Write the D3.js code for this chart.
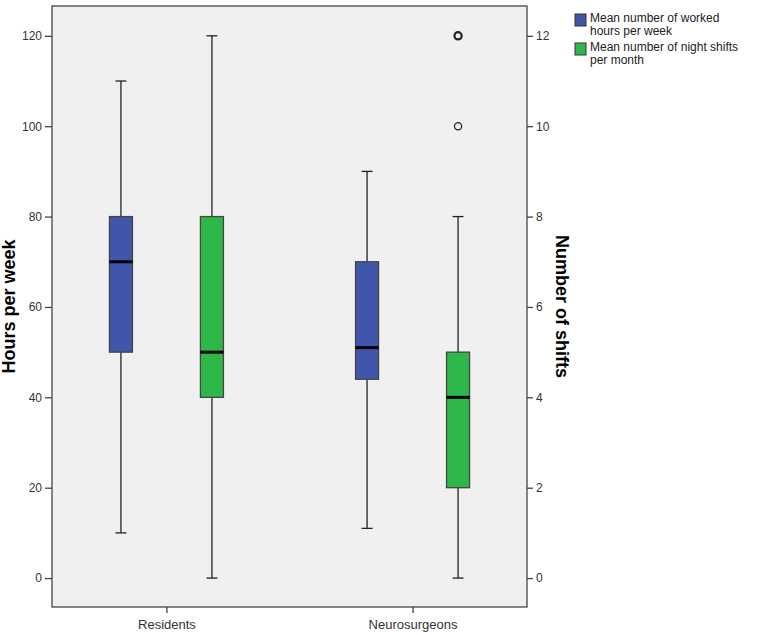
<!DOCTYPE html>
<html>
<head>
<meta charset="utf-8">
<script src="https://cdn.jsdelivr.net/npm/d3@7"></script>
<style>
  body { margin: 0; background: #fff; }
  text { font-family: Arial, "Liberation Sans", sans-serif; }
</style>
</head>
<body>
<script>
// groups on the x axis
var groups = ["Residents", "Neurosurgeons"];
// the two variables, hours on left axis, shifts on right axis
var series = ["Mean number of worked hours per week", "Mean number of night shifts per month"];
var seriesColors = ["#3f56ab", "#2fb84a"];

// box stats: [whiskerLow, q1, median, q3, whiskerHigh]
var hoursStats = [[10, 50, 70, 80, 110], [11, 44, 51, 70, 90]];
var shiftStats = [[0, 4, 5, 8, 12], [0, 2, 4, 5, 8]];
var shiftOutliers = [[], [10, 12]];

var hourTicks = [0, 20, 40, 60, 80, 100, 120];
var shiftTicks = [0, 2, 4, 6, 8, 10, 12];

var width = 760, height = 635;
var plotL = 52, plotR = 527, plotT = 6, plotB = 607;

var svg = d3.select("body").append("svg")
    .attr("width", width)
    .attr("height", height);

var yHours = d3.scaleLinear().domain([-6.4, 126.6]).range([plotB, plotT]);
var yShifts = d3.scaleLinear().domain([-0.64, 12.66]).range([plotB, plotT]);

var x = d3.scalePoint().domain(groups).range([plotL, plotR]).padding(0.465);
var inner = d3.scalePoint().domain([0, 1]).range([-45.5, 45.5]);

//plot background
svg.append("rect")
    .attr("x", plotL).attr("y", plotT)
    .attr("width", plotR - plotL).attr("height", plotB - plotT)
    .attr("fill", "#f0f0f0")
    .attr("stroke", "#444").attr("stroke-width", 1.3);

//axes
var axL = svg.append("g").attr("transform", "translate(" + plotL + ",0)")
    .call(d3.axisLeft(yHours).tickValues(hourTicks).tickSize(7).tickPadding(3));
var axR = svg.append("g").attr("transform", "translate(" + plotR + ",0)")
    .call(d3.axisRight(yShifts).tickValues(shiftTicks).tickSize(6).tickPadding(3));
var axB = svg.append("g").attr("transform", "translate(0," + plotB + ")")
    .call(d3.axisBottom(x).tickSize(6).tickPadding(7));

[axL, axR, axB].forEach(function(a){
    a.select(".domain").remove();
    a.selectAll("line").attr("stroke", "#444").attr("stroke-width", 1.3);
    a.selectAll("text").attr("fill", "#333").style("font-size", "12px");
});
axB.selectAll("text").style("font-size", "13px");

//axis titles
svg.append("text")
    .attr("transform", "translate(15," + ((plotT + plotB) / 2) + ") rotate(-90)")
    .attr("text-anchor", "middle")
    .style("font-size", "18px").style("font-weight", "bold")
    .text("Hours per week");
svg.append("text")
    .attr("transform", "translate(556," + ((plotT + plotB) / 2) + ") rotate(90)")
    .attr("text-anchor", "middle")
    .style("font-size", "18px").style("font-weight", "bold")
    .text("Number of shifts");

//boxes
var boxW = 23, capW = 11;
function drawBox(cx, s, y, color){
    var g = svg.append("g");
    g.append("line").attr("x1", cx).attr("x2", cx)
        .attr("y1", y(s[0])).attr("y2", y(s[4]))
        .attr("stroke", "#222").attr("stroke-width", 1.3);
    [s[0], s[4]].forEach(function(v){
        g.append("line").attr("x1", cx - capW / 2).attr("x2", cx + capW / 2)
            .attr("y1", y(v)).attr("y2", y(v))
            .attr("stroke", "#222").attr("stroke-width", 1.3);
    });
    g.append("rect").attr("x", cx - boxW / 2).attr("width", boxW)
        .attr("y", y(s[3])).attr("height", y(s[1]) - y(s[3]))
        .attr("fill", color).attr("stroke", "#444").attr("stroke-width", 1.3);
    g.append("line").attr("x1", cx - boxW / 2).attr("x2", cx + boxW / 2)
        .attr("y1", y(s[2])).attr("y2", y(s[2]))
        .attr("stroke", "#000").attr("stroke-width", 3);
}

groups.forEach(function(gname, i){
    var c = x(gname);
    drawBox(c + inner(0), hoursStats[i], yHours, seriesColors[0]);
    var c2 = c + inner(1);
    drawBox(c2, shiftStats[i], yShifts, seriesColors[1]);
    shiftOutliers[i].forEach(function(v){
        svg.append("circle").attr("cx", c2).attr("cy", yShifts(v)).attr("r", 3.6)
            .attr("fill", "none").attr("stroke", "#222")
            .attr("stroke-width", v === 12 ? 2.2 : 1.3);
    });
});

//legend
var leg = svg.append("g").attr("transform", "translate(575,13)");
var legLines = [["Mean number of worked", "hours per week"], ["Mean number of night shifts", "per month"]];
legLines.forEach(function(lines, i){
    var gy = i * 29;
    leg.append("rect").attr("x", 0).attr("y", gy + 1).attr("width", 11).attr("height", 12)
        .attr("fill", seriesColors[i]).attr("stroke", "#333").attr("stroke-width", 1);
    lines.forEach(function(t, j){
        leg.append("text").attr("x", 15).attr("y", gy + 9 + j * 13)
            .style("font-size", "12px").attr("fill", "#222").text(t);
    });
});
</script>
</body>
</html>
